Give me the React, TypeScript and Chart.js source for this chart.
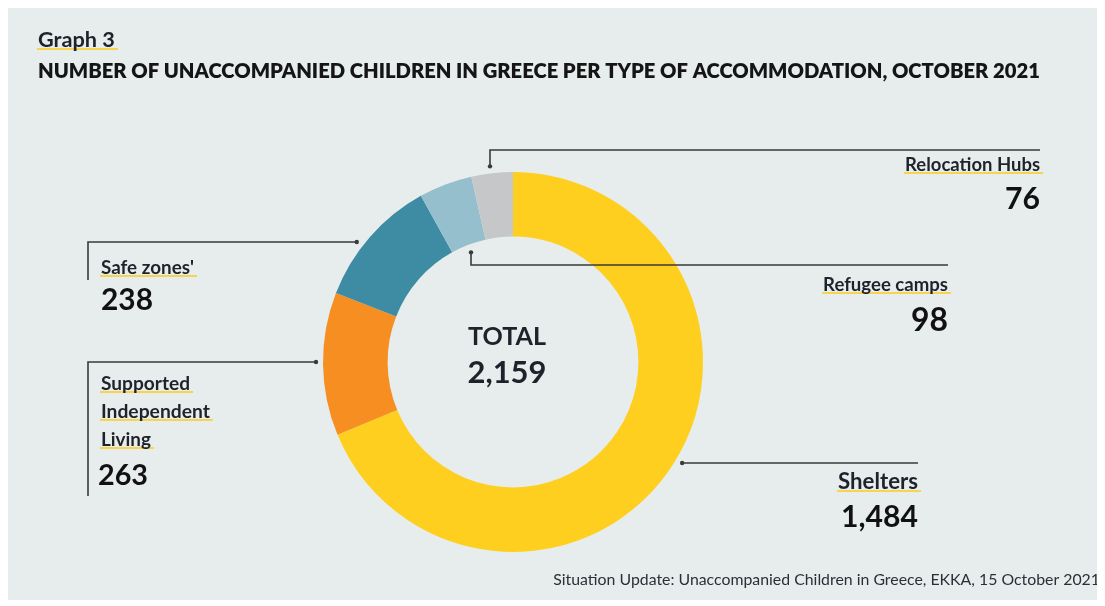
import React, { useEffect, useRef } from "react";
import { Chart, registerables } from "chart.js";

Chart.register(...registerables);

const categories = ["Shelters", "Supported Independent Living", "Safe zones'", "Refugee camps", "Relocation Hubs"];
const values = [1484, 263, 238, 98, 76];
const sliceColors = ["#FFCF1F", "#F68E21", "#3D8CA4", "#96BFCE", "#C6C7C9"];
const labelLines = [["Shelters"], ["Supported", "Independent", "Living"], ["Safe zones'"], ["Refugee camps"], ["Relocation Hubs"]];
const titleSmall = "Graph 3";
const titleMain = "NUMBER OF UNACCOMPANIED CHILDREN IN GREECE PER TYPE OF ACCOMMODATION, OCTOBER 2021";
const totalLabel = "TOTAL";
const sourceText = "Situation Update: Unaccompanied Children in Greece, EKKA, 15 October 2021";

const OFF = 8; // canvas offset in page
const FONT = "Lato, 'Open Sans', sans-serif";
const BG = "#E7EDED";
const INK = "#1E222B";
const UNDER = "#F7D44C";

// layout of annotations (page coordinates)
type Ann = {
  mode: "h" | "vOuter" | "vInner";
  lineY?: number; lineX?: number; endX: number; tailY?: number;
  align: "left" | "right"; textX: number; labelBase: number[]; labelW: number[];
  valueX: number; valueBase: number; valueW: number;
};
const anns: Ann[] = [
  { mode: "h", lineY: 463, endX: 918, align: "right", textX: 918, labelBase: [489], labelW: [80], valueX: 918, valueBase: 527, valueW: 77 },
  { mode: "h", lineY: 362, endX: 88, tailY: 496, align: "left", textX: 101, labelBase: [390, 418, 446], labelW: [89, 109, 50], valueX: 98, valueBase: 485, valueW: 50 },
  { mode: "h", lineY: 242, endX: 88, tailY: 280, align: "left", textX: 101, labelBase: [274], labelW: [93], valueX: 101, valueBase: 310, valueW: 52 },
  { mode: "vInner", lineX: 471, lineY: 265, endX: 948, align: "right", textX: 948, labelBase: [291], labelW: [125], valueX: 948, valueBase: 331, valueW: 37 },
  { mode: "vOuter", lineX: 490, lineY: 150, endX: 1040, align: "right", textX: 1040, labelBase: [171], labelW: [135], valueX: 1040, valueBase: 209, valueW: 35 },
];

function fitFont(ctx: CanvasRenderingContext2D, text: string, weight: string, target: number, base = 20) {
  ctx.font = `${weight} ${base}px ${FONT}`;
  const w = ctx.measureText(text).width;
  const size = (base * target) / w;
  ctx.font = `${weight} ${size}px ${FONT}`;
  return size;
}

function drawText(ctx: CanvasRenderingContext2D, text: string, x: number, y: number, align: CanvasTextAlign, weight: string, width: number, underline: boolean, color = INK) {
  fitFont(ctx, text, weight, width);
  ctx.fillStyle = color;
  ctx.textAlign = align;
  ctx.textBaseline = "alphabetic";
  const px = x - OFF, py = y - OFF;
  if (underline) {
    const w = ctx.measureText(text).width;
    const left = align === "left" ? px : align === "right" ? px - w : px - w / 2;
    ctx.save();
    ctx.strokeStyle = UNDER;
    ctx.lineWidth = 2;
    ctx.beginPath();
    ctx.moveTo(left - 1, py + 2);
    ctx.lineTo(left + w + 3, py + 2);
    ctx.stroke();
    ctx.restore();
  }
  ctx.fillText(text, px, py);
}

const decorPlugin = {
  id: "decor",
  beforeDraw(chart: any) {
    const ctx = chart.ctx as CanvasRenderingContext2D;
    ctx.save();
    ctx.fillStyle = BG;
    ctx.fillRect(0, 0, chart.width, chart.height);
    ctx.restore();
  },
  afterDraw(chart: any) {
    const ctx = chart.ctx as CanvasRenderingContext2D;
    const arcs = chart.getDatasetMeta(0).data;
    ctx.save();
    // titles
    drawText(ctx, titleSmall, 38, 47, "left", "700", 77, true);
    drawText(ctx, titleMain, 38, 78, "left", "800", 1002, false, "#151515");
    // center
    drawText(ctx, totalLabel, 507, 345, "center", "700", 78, false);
    const total = values.reduce((a, b) => a + b, 0);
    drawText(ctx, total.toLocaleString("en-US"), 507, 383, "center", "700", 79, false);
    // annotations
    anns.forEach((a, i) => {
      const arc = arcs[i];
      const cx = arc.x, cy = arc.y;
      const ro = arc.outerRadius + 7, ri = arc.innerRadius - 8;
      ctx.strokeStyle = "#3A3A3A";
      ctx.fillStyle = "#3A3A3A";
      ctx.lineWidth = 1.6;
      let ax = 0, ay = 0;
      const pts: [number, number][] = [];
      if (a.mode === "h") {
        const y = a.lineY! - OFF;
        const dy = y - cy;
        const dx = Math.sqrt(Math.max(ro * ro - dy * dy, 0));
        ax = a.endX - OFF < cx ? cx - dx : cx + dx;
        ay = y;
        pts.push([ax, ay], [a.endX - OFF, y]);
        if (a.tailY) pts.push([a.endX - OFF, a.tailY - OFF]);
      } else {
        const r = a.mode === "vOuter" ? ro : ri;
        const x = a.lineX! - OFF;
        const dx = x - cx;
        ax = x;
        ay = cy - Math.sqrt(Math.max(r * r - dx * dx, 0));
        pts.push([ax, ay], [x, a.lineY! - OFF], [a.endX - OFF, a.lineY! - OFF]);
      }
      ctx.beginPath();
      pts.forEach((p, k) => (k === 0 ? ctx.moveTo(p[0], p[1]) : ctx.lineTo(p[0], p[1])));
      ctx.stroke();
      ctx.beginPath();
      ctx.arc(ax, ay, 2.2, 0, Math.PI * 2);
      ctx.fill();
      labelLines[i].forEach((t, k) => {
        drawText(ctx, t, a.textX, a.labelBase[k], a.align, "700", a.labelW[k], true);
      });
      drawText(ctx, values[i].toLocaleString("en-US"), a.valueX, a.valueBase, a.align, "700", a.valueW, false, "#111");
    });
    // source
    drawText(ctx, sourceText, 1100, 585, "right", "400", 547, false, "#2E2E36");
    ctx.restore();
  },
};

export default function App() {
  const ref = useRef<HTMLCanvasElement>(null);
  useEffect(() => {
    if (!ref.current) return;
    const W = 1090, H = 592;
    const cx = 513 - OFF, cy = 362 - OFF, R = 190;
    const chart = new Chart(ref.current, {
      type: "doughnut",
      data: {
        labels: categories,
        datasets: [{ data: values, backgroundColor: sliceColors, borderWidth: 0 }],
      },
      options: {
        responsive: false,
        animation: false,
        cutout: "66%",
        layout: { padding: { left: cx - R, right: W - cx - R, top: cy - R, bottom: H - cy - R } },
        plugins: { legend: { display: false }, tooltip: { enabled: false } },
        events: [],
      },
      plugins: [decorPlugin],
    });
    return () => chart.destroy();
  }, []);
  return <canvas ref={ref} width={1090} height={592} style={{ display: "block", width: 1090, height: 592 }} />;
}
